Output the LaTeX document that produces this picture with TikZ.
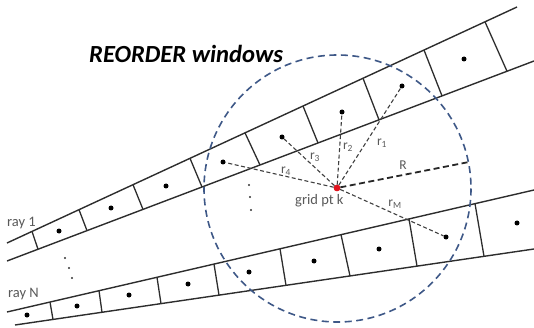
\documentclass[tikz,border=0pt]{standalone}
\usepackage{fontspec}
\setmainfont{Carlito}
\usetikzlibrary{calc}
\definecolor{raygray}{RGB}{45,45,45}
\definecolor{labgray}{RGB}{89,89,89}
\definecolor{circblue}{RGB}{62,88,135}
\definecolor{kred}{RGB}{225,20,30}
\begin{document}
\begin{tikzpicture}[x=1pt,y=-1pt,
  rayline/.style={draw=raygray,line width=1.4pt},
  cellwall/.style={draw=raygray,line width=1.3pt},
  celldot/.style={circle,fill=black,inner sep=0pt,minimum size=5pt},
  tinydot/.style={circle,fill=black!80,inner sep=0pt,minimum size=2.4pt},
  kdot/.style={circle,fill=kred,inner sep=0pt,minimum size=6.5pt},
  rdash/.style={draw=black!75,line width=1.1pt,dash pattern=on 4pt off 2.5pt},
  Rdash/.style={draw=black!85,line width=1.8pt,dash pattern=on 6pt off 3.5pt},
  wincircle/.style={draw=circblue,line width=1.6pt,dash pattern=on 7pt off 4.5pt},
  graytext/.style={text=labgray,font=\fontsize{14.5}{16}\selectfont,inner sep=0pt},
  rlabel/.style={text=labgray,font=\fontsize{13.5}{15}\selectfont,inner sep=0pt},
]
\useasboundingbox (0,0) rectangle (534,328);

% ray strips
\draw[rayline] (7,243) -- (517,7);
\draw[rayline] (7,261) -- (534,61);
\draw[rayline] (7,312) -- (534,190);
\draw[rayline] (15,325) -- (534,249);

\foreach \a/\b in {32/38,79/87,133/143,190/202,245/260,303/318,363/379,424/442,485/507}
  \draw[cellwall] (\a,{243-0.4627*(\a-7)}) -- (\b,{261-0.3795*(\b-7)});
\foreach \a/\b in {50/53,99/102,157/161,214/219,280/286,341/350,409/417,475/484}
  \draw[cellwall] (\a,{312-0.2315*(\a-7)}) -- (\b,{325-0.1464*(\b-15)});

% grid point and window
\node[kdot] (k) at (337,188) {};
\draw[wincircle] (337.5,188.5) circle[radius=133.5];

% ray 1 samples
\node[celldot] (a1) at (59,231) {};
\node[celldot] (a2) at (111,208) {};
\node[celldot] (a3) at (166,186) {};
\node[celldot] (r4) at (223,162) {};
\node[celldot] (r3) at (282,137) {};
\node[celldot] (r2) at (342,112) {};
\node[celldot] (r1) at (402,86) {};
\node[celldot] (a8) at (464,59) {};

% ray N samples
\node[celldot] (b1) at (27,315) {};
\node[celldot] (b2) at (77,306) {};
\node[celldot] (b3) at (129,295) {};
\node[celldot] (b4) at (188,284) {};
\node[celldot] (b5) at (249,272) {};
\node[celldot] (b6) at (314,261) {};
\node[celldot] (b7) at (379,249) {};
\node[celldot] (rM) at (446,237) {};
\node[celldot] (b9) at (517,223) {};

% ellipsis dots
\node[tinydot] (e1) at (249,185) {};
\node[tinydot] (e2) at (250,197) {};
\node[tinydot] (e3) at (251,210) {};
\node[tinydot] (f1) at (65,258) {};
\node[tinydot] (f2) at (69,268) {};
\node[tinydot] (f3) at (72,278) {};

% distances
\coordinate (Rend) at ($(337.5,188.5)+(-11.4:133.5)$);
\draw[rdash] (k) -- (r1);
\draw[rdash] (k) -- (r2);
\draw[rdash] (k) -- (r3);
\draw[rdash] (k) -- (r4);
\draw[rdash] (k) -- (rM);
\draw[Rdash] (k) -- (Rend);
\node[kdot] at (k) {};

\node[rlabel] (l1) at (382,143) {r\textsubscript{1}};
\node[rlabel] (l2) at (348,147) {r\textsubscript{2}};
\node[rlabel] (l3) at (315,157) {r\textsubscript{3}};
\node[rlabel] (l4) at (286,171) {r\textsubscript{4}};
\node[rlabel] (lR) at (403,165) {R};
\node[rlabel] (lM) at (395,204) {r\textsubscript{M}};

% texts
\node[anchor=base west,inner sep=0pt,font=\fontsize{24.6}{28}\selectfont\bfseries\itshape] (title) at (89,63) {REORDER windows};
\node[graytext,anchor=base west] (ray1) at (7,226) {ray 1};
\node[graytext,anchor=base west] (rayN) at (8,297) {ray N};
\node[graytext,anchor=base west] (gridk) at (295,205) {grid pt k};
\end{tikzpicture}
\end{document}
